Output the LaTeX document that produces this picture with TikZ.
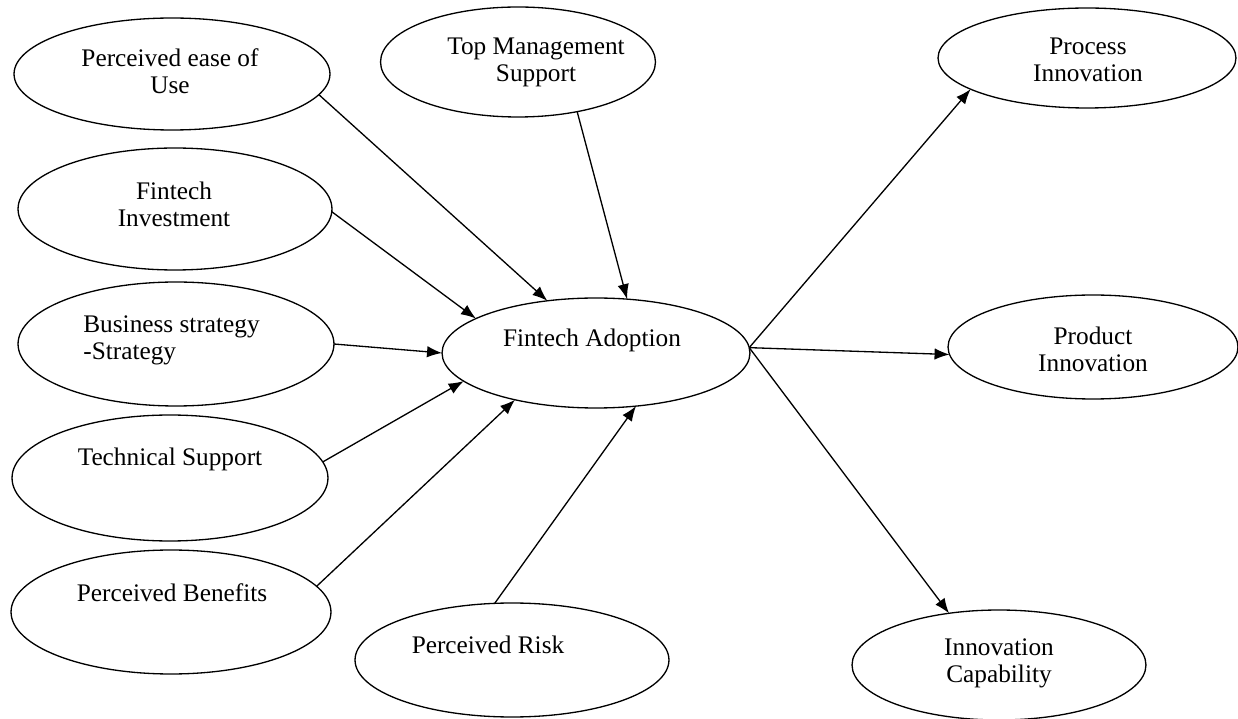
\documentclass[tikz,border=0pt]{standalone}
\usepackage{fontspec}
\setmainfont{Liberation Serif}
\usepackage{tikz}
\usetikzlibrary{arrows.meta, shapes.geometric}
\tikzset{factor/.style={draw, ellipse, line width=0.75pt, inner sep=0pt, outer sep=0pt}}
\tikzset{txt/.style={font=\fontsize{14.4}{15.5}\selectfont, align=center, inner sep=0pt}}
\tikzset{link/.style={-{Latex[length=3mm, width=2.3mm]}, line width=0.75pt}}

\begin{document}
\begin{tikzpicture}[x=0.02cm, y=-0.02cm]
            \fill[white] (0,0) rectangle (1238,719);
            \useasboundingbox (0,0) rectangle (1238,719);
            % factors on the left and top
            \node[factor, minimum width=6.32cm, minimum height=2.24cm] (pe) at (172,74) {};
            \node[factor, minimum width=5.5cm, minimum height=2.2cm] (tm) at (518,62) {};
            \node[factor, minimum width=6.28cm, minimum height=2.44cm] (fi) at (175,209) {};
            \node[factor, minimum width=6.32cm, minimum height=2.48cm] (bs) at (176,344) {};
            \node[factor, minimum width=6.32cm, minimum height=2.52cm] (ts) at (170,478) {};
            \node[factor, minimum width=6.4cm, minimum height=2.48cm] (pb) at (171,612) {};
            \node[factor, minimum width=6.28cm, minimum height=2.28cm] (pr) at (512,660) {};
            % adoption and outcomes
            \node[factor, minimum width=6.16cm, minimum height=2.2cm] (ad) at (596,353) {};
            \node[factor, minimum width=5.96cm, minimum height=2.0cm] (pi) at (1087,58) {};
            \node[factor, minimum width=5.8cm, minimum height=2.08cm] (pd) at (1093,347) {};
            \node[factor, minimum width=5.88cm, minimum height=2.2cm] (ic) at (999,665) {};
            % texts
            \node[txt] at (170,71.5) {Perceived ease of\\Use};
            \node[txt] at (536,62.5) {Top Management\\Support};
            \node[txt] at (1088,60) {Process\\Innovation};
            \node[txt] at (174,204) {Fintech\\Investment};
            \node[txt, align=left, anchor=west] at (83,340) {Business strategy\\-Strategy};
            \node[txt] at (170,459) {Technical Support};
            \node[txt] at (172,593) {Perceived Benefits};
            \node[txt] at (488,645) {Perceived Risk};
            \node[txt] at (592,340) {Fintech Adoption};
            \node[txt] at (1093,349.5) {Product\\Innovation};
            \node[txt] at (999,663) {Innovation\\Capability};
            % arrows
            \draw[link] (pe.-8) -- (ad.133);
            \draw[link] (tm.-40) -- (ad.60);
            \draw[link] (fi.-1) -- (ad.164);
            \draw[link] (bs.east) -- (ad.west);
            \draw[link] (ts.6) -- (ad.192);
            \draw[link] (pb.10) -- (ad.210);
            \draw[link] (pr.107) -- (ad.-53);
            \draw[link] (ad.2) -- (pi.195);
            \draw[link] (ad.2) -- (pd.183);
            \draw[link] (ad.2) -- (ic.134);
        \end{tikzpicture}
\end{document}
